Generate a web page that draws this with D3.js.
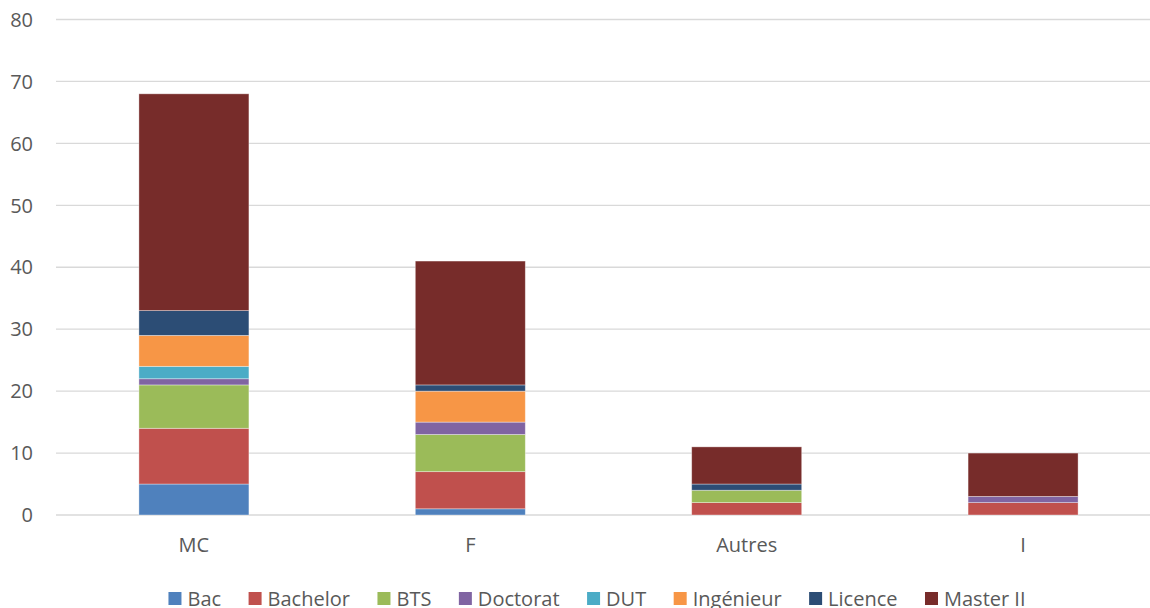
<!DOCTYPE html>
<html>
<head>
<meta charset="utf-8">
<script src="https://cdn.jsdelivr.net/npm/d3@7"></script>
<style>
  body { margin: 0; background: #fff; overflow: hidden; }
  text { font-family: "Open Sans", "Liberation Sans", sans-serif; fill: #595959; }
</style>
</head>
<body>
<script>
// categories and series
var categories = ["MC", "F", "Autres", "I"];
var seriesNames = ["Bac", "Bachelor", "BTS", "Doctorat", "DUT", "Ingénieur", "Licence", "Master II"];
var bac       = [5, 1, 0, 0];
var bachelor  = [9, 6, 2, 2];
var bts       = [7, 6, 2, 0];
var doctorat  = [1, 2, 0, 1];
var dut       = [2, 0, 0, 0];
var ingenieur = [5, 5, 0, 0];
var licence   = [4, 1, 1, 0];
var master    = [35, 20, 6, 7];
var yTicks = [0, 10, 20, 30, 40, 50, 60, 70, 80];
var colors = ["#4F81BD", "#C0504D", "#9BBB59", "#8064A2", "#4BACC6", "#F79646", "#2C4D75", "#772C2A"];

var allSeries = [bac, bachelor, bts, doctorat, dut, ingenieur, licence, master];

// build rows for d3.stack
var rows = categories.map(function(c, i) {
  var row = {cat: c};
  seriesNames.forEach(function(s, k) { row[s] = allSeries[k][i]; });
  return row;
});

var width = 1150, height = 608;
var margin = {left: 56, top: 19.5, bottom: 93};

var svg = d3.select("body").append("svg")
  .attr("width", width)
  .attr("height", height);

// plot area runs a little past the right edge of the picture
var x = d3.scaleBand()
  .domain(categories)
  .range([margin.left, 1161])
  .paddingInner(0.602)
  .paddingOuter(0.3);

var y = d3.scaleLinear()
  .domain([0, 80])
  .range([height - margin.bottom, margin.top]);

// gridlines
svg.append("g")
  .selectAll("line")
  .data(yTicks)
  .enter().append("line")
    .attr("x1", margin.left)
    .attr("x2", width)
    .attr("y1", function(d) { return y(d); })
    .attr("y2", function(d) { return y(d); })
    .style("stroke", "#d9d9d9")
    .style("stroke-width", 1.3);

// y labels
svg.append("g")
  .selectAll("text")
  .data(yTicks)
  .enter().append("text")
    .attr("x", 33)
    .attr("y", function(d) { return y(d); })
    .attr("dy", "0.36em")
    .attr("text-anchor", "end")
    .style("font-size", "20px")
    .text(function(d) { return d; });

// stacked bars
var stack = d3.stack().keys(seriesNames);
var layers = stack(rows);

svg.append("g")
  .selectAll("g")
  .data(layers)
  .enter().append("g")
    .style("fill", function(d, i) { return colors[i]; })
  .selectAll("rect")
  .data(function(d) { return d.filter(function(p) { return p[1] - p[0] > 0; }); })
  .enter().append("rect")
    .attr("x", function(d) { return x(d.data.cat); })
    .attr("width", x.bandwidth())
    .attr("y", function(d) { return y(d[1]); })
    .attr("height", function(d) { return y(d[0]) - y(d[1]); })
    .style("stroke", "rgba(255,255,255,0.45)")
    .style("stroke-width", 0.8);

// x labels
svg.append("g")
  .selectAll("text")
  .data(categories)
  .enter().append("text")
    .attr("x", function(d) { return x(d) + x.bandwidth() / 2; })
    .attr("y", 552)
    .attr("text-anchor", "middle")
    .style("font-size", "20px")
    .text(function(d) { return d; });

// legend (bottom row is cut by the picture edge, as in the original)
var legend = svg.append("g");
var items = legend.selectAll("g")
  .data(seriesNames)
  .enter().append("g");

items.append("rect")
  .attr("width", 13)
  .attr("height", 13)
  .attr("y", 592)
  .style("fill", function(d, i) { return colors[i]; });

items.append("text")
  .attr("x", 19)
  .attr("y", 606)
  .style("font-size", "20px")
  .text(function(d) { return d; });

var gap = 27.5;
var pos = 0;
items.each(function() {
  var w = d3.select(this).select("text").node().getComputedTextLength();
  d3.select(this).attr("transform", "translate(" + pos + ",0)");
  pos += 19 + w + gap;
});
var total = pos - gap;
legend.attr("transform", "translate(" + (597 - total / 2) + ",0)");
</script>
</body>
</html>
